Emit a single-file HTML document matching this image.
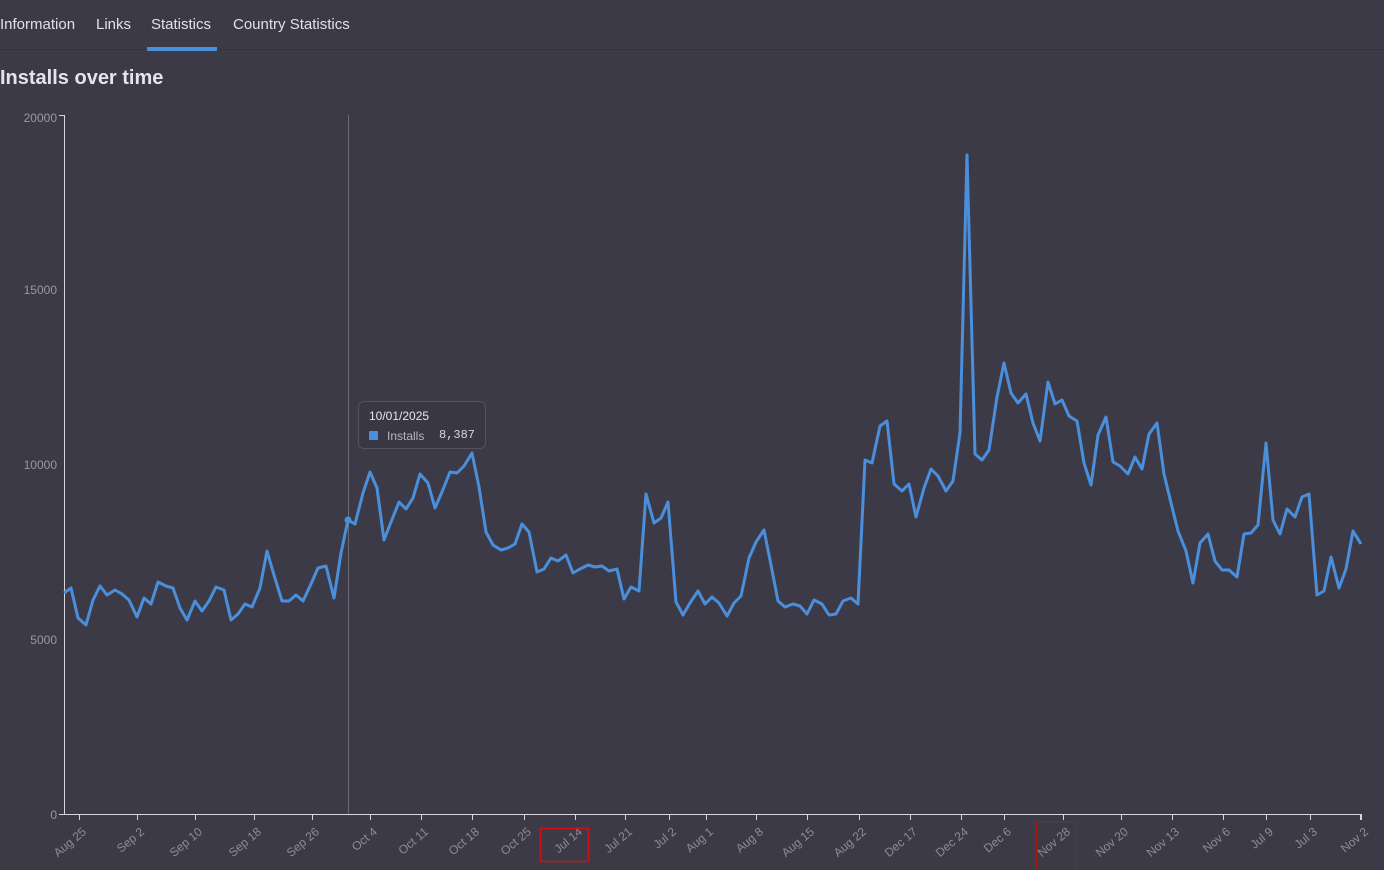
<!DOCTYPE html>
<html><head><meta charset="utf-8"><style>
body{margin:0;width:1384px;height:870px;background:#3d3a47;font-family:"Liberation Sans",sans-serif;overflow:hidden;position:relative;color:#e6e4ea}
.tab{position:absolute;top:16px;font-size:15px;color:#e2e0e6}
.line{position:absolute;left:0;top:49px;width:1384px;height:1px;background:#36333f}
.ul{position:absolute;left:147px;top:47px;width:70px;height:4px;background:#4a8fdc}
h1{position:absolute;left:0;top:67px;margin:0;font-size:20px;font-weight:bold;color:#e6e4ea}
.tt{position:absolute;left:358px;top:401px;width:126px;height:46px;background:#3a3744;border:1px solid #55525e;border-radius:6px;font-size:12px}
</style></head><body>
<div class="tab" style="left:0">Information</div>
<div class="tab" style="left:96px">Links</div>
<div class="tab" style="left:151px">Statistics</div>
<div class="tab" style="left:233px">Country Statistics</div>
<div class="line"></div><div class="ul"></div>
<h1>Installs over time</h1>
<svg width="1384" height="870" style="position:absolute;left:0;top:0">
<g font-size="12" fill="#9a97a3" font-family="Liberation Sans,sans-serif" text-anchor="end">
<text x="57" y="122">20000</text><text x="57" y="294">15000</text><text x="57" y="469">10000</text><text x="57" y="644">5000</text><text x="57" y="819">0</text>
</g>
<g stroke="#d8d6dc" stroke-width="1">
<line x1="64.5" y1="115" x2="64.5" y2="814"/><line x1="59" y1="115.5" x2="64" y2="115.5"/><line x1="59" y1="814.5" x2="1361" y2="814.5"/>
<line x1="1360.5" y1="814" x2="1360.5" y2="820"/>
</g>
<line x1="348.5" y1="115" x2="348.5" y2="814" stroke="#6c6975"/>
<g id="ticks" stroke="#d8d6dc"></g>
<g id="labels" font-size="12" fill="#8e8b98" font-family="Liberation Sans,sans-serif" text-anchor="end"></g>
<polyline fill="none" stroke="#4a8fdc" stroke-width="3" stroke-linejoin="round" points="64,593 71,588 78,618 86,625 93,600 100,586 107,595 115,590 122,594 129,600 137,617 144,598 151,604 158,582 166,586 173,588 180,608 187,620 195,601 202,611 209,601 216,587 224,590 231,620 238,614 245,604 252,607 260,588 267,551 274,575 282,601 289,601 296,595 303,601 311,584 318,568 326,566 334,598 341,553 348,520 355,524 363,493 370,472 377,488 384,540 391,522 399,502 406,509 413,498 420,474 428,483 435,508 442,492 450,472 457,473 464,466 472,453 479,487 486,532 493,545 501,550 508,548 515,544 522,524 529,532 537,572 544,569 551,558 558,561 566,555 573,573 580,569 588,565 595,567 602,566 609,571 617,569 624,599 631,587 639,591 646,494 654,523 661,518 668,502 676,602 683,615 690,603 698,591 705,604 712,597 719,603 727,616 734,603 741,596 749,558 756,542 764,530 771,565 778,601 785,607 793,604 800,606 807,614 814,600 822,604 829,615 836,614 843,601 851,598 858,604 865,460 872,463 880,426 887,421 894,484 902,491 909,484 916,517 924,488 931,469 938,476 946,491 953,481 960,433 967,155 975,454 982,460 989,450 997,397 1004,363 1011,393 1018,403 1026,394 1033,423 1040,441 1048,382 1055,404 1062,400 1069,416 1077,421 1084,463 1091,485 1098,435 1106,417 1113,462 1120,466 1128,474 1135,457 1142,469 1149,434 1157,423 1164,474 1171,503 1178,531 1186,551 1193,583 1200,543 1208,534 1215,561 1222,570 1229,570 1237,577 1244,534 1251,533 1258,525 1266,443 1273,520 1280,534 1287,509 1295,517 1302,497 1309,494 1317,595 1324,591 1331,557 1339,588 1346,569 1353,531 1361,544"/>
<circle cx="348" cy="520" r="3.5" fill="#4a8fdc"/>
<rect x="540.5" y="828.5" width="48" height="33" fill="none" stroke="#d01010" stroke-width="1.5"/>
<rect x="1036.5" y="821.5" width="39" height="50" fill="none" stroke="#b01515" stroke-width="1"/>
</svg>
<div class="tt"><div style="position:absolute;left:10px;top:7px;color:#e6e4ea">10/01/2025</div>
<div style="position:absolute;left:10px;top:29px;width:9px;height:9px;background:#4a8fdc;border-radius:1px"></div>
<div style="position:absolute;left:28px;top:27px;color:#b8b5c0">Installs</div>
<div style="position:absolute;left:80px;top:26px;color:#d8d6dc;font-family:'Liberation Mono',monospace">8,387</div></div>
<script>
var t=[[79,"Aug 25"],[137,"Sep 2"],[195,"Sep 10"],[254,"Sep 18"],[312,"Sep 26"],[370,"Oct 4"],[421,"Oct 11"],[472,"Oct 18"],[524,"Oct 25"],[575,"Jul 14"],[625,"Jul 21"],[669,"Jul 2"],[706,"Aug 1"],[756,"Aug 8"],[807,"Aug 15"],[859,"Aug 22"],[910,"Dec 17"],[961,"Dec 24"],[1004,"Dec 6"],[1063,"Nov 28"],[1121,"Nov 20"],[1172,"Nov 13"],[1223,"Nov 6"],[1266,"Jul 9"],[1310,"Jul 3"],[1361,"Nov 2"]];
var ns="http://www.w3.org/2000/svg",T=document.getElementById("ticks"),L=document.getElementById("labels");
t.forEach(function(a){var l=document.createElementNS(ns,"line");l.setAttribute("x1",a[0]+.5);l.setAttribute("x2",a[0]+.5);l.setAttribute("y1",814);l.setAttribute("y2",820);T.appendChild(l);
var x=document.createElementNS(ns,"text");x.setAttribute("transform","translate("+(a[0]+8)+",833) rotate(-40)");x.textContent=a[1];L.appendChild(x);});
</script>
</body></html>
